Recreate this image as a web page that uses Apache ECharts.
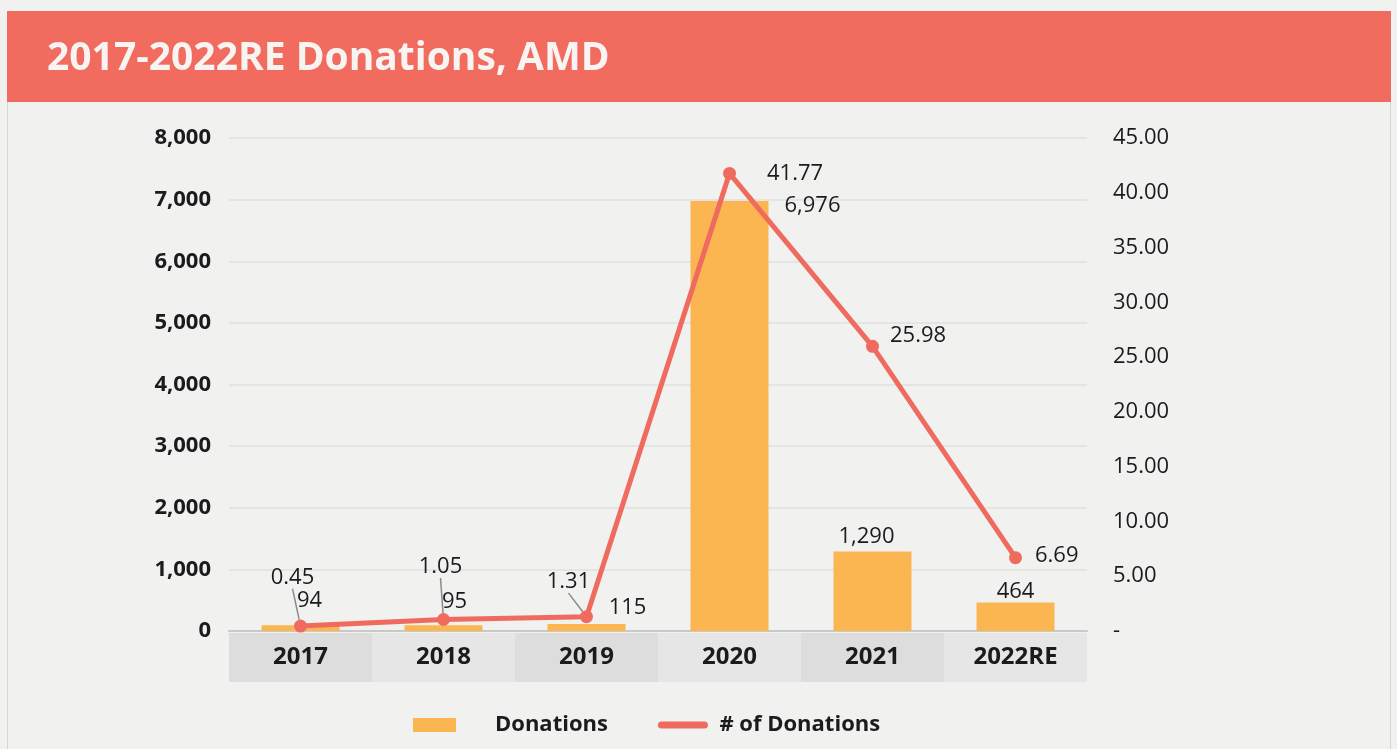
<!DOCTYPE html>
<html>
<head>
<meta charset="utf-8">
<script src="https://cdn.jsdelivr.net/npm/echarts@6/dist/echarts.min.js"></script>
<style>
	html, body { margin: 0; padding: 0; background: #f1f1ef; }
	#chart { width: 1397px; height: 749px; }
</style>
</head>
<body>
<div id="chart"></div>
<script>
	// data
	var years = ['2017', '2018', '2019', '2020', '2021', '2022RE'];
	var donations = [94, 95, 115, 6976, 1290, 464];
	var donationCount = [0.45, 1.05, 1.31, 41.77, 25.98, 6.69];

	// label nudges (px) so the labels sit like in the picture
	var barLabelShift = [[9, -8], [11, -7], [41, 0], [83, 21], [-6, 1], [0, 5]];
	var lineLabelShift = [[-8, -26], [-3, -30], [-18, -12], [26, 0], [6, -11], [8, -2]];
	var linePos = ['top', 'top', 'top', 'right', 'right', 'right'];

	var fontName = '"Open Sans", "Noto Sans", sans-serif';
	var red = '#f06b5f';
	var amber = '#fbb652';

	var chart = echarts.init(document.getElementById('chart'));

	chart.setOption({
		backgroundColor: '#f1f1ef',
		textStyle: { fontFamily: fontName },
		graphic: [
			{ type: 'rect', left: 7, top: 11, shape: { width: 1384, height: 91 }, style: { fill: '#f16b5f' }, z: -1 },
			{ type: 'rect', left: 7, top: 102, shape: { width: 1, height: 647 }, style: { fill: '#d6d6d6' } },
			{ type: 'rect', left: 1390, top: 102, shape: { width: 1, height: 647 }, style: { fill: '#d6d6d6' } }
		],
		title: {
			text: '2017-2022RE Donations, AMD',
			left: 42,
			top: 34,
			textStyle: { color: '#f7f4f2', fontSize: 39, fontWeight: 'bold', fontFamily: fontName }
		},
		legend: {
			left: 408,
			top: 709,
			itemWidth: 43,
			itemHeight: 14,
			itemGap: 50,
			textStyle: { fontSize: 22, fontWeight: 'bold', color: '#1b1b1f' },
			data: [
				{ name: 'Donations', icon: 'rect', textStyle: { fontSize: 22, fontWeight: 'bold', color: '#1b1b1f', padding: [0, 0, 0, 34] } },
				{ name: '# of Donations', itemStyle: { opacity: 0 }, lineStyle: { width: 7, cap: 'round' },
					textStyle: { fontSize: 22, fontWeight: 'bold', color: '#1b1b1f', padding: [0, 0, 0, 10] } }
			]
		},
		grid: { left: 229, right: 310, top: 138, bottom: 118 },
		xAxis: {
			type: 'category',
			data: years,
			axisTick: { show: false },
			axisLine: { lineStyle: { color: '#c9c9c9', width: 2 } },
			axisLabel: {
				interval: 0,
				margin: 2,
				formatter: function (v, i) {
					return '{' + (i % 2 ? 'l' : 'd') + '|' + v + '}';
				},
				rich: {
					d: { backgroundColor: '#dcdddc', width: 143, height: 49, lineHeight: 49, align: 'center', fontSize: 24, fontWeight: 'bold', color: '#1b1b1f' },
					l: { backgroundColor: '#e6e6e6', width: 143, height: 49, lineHeight: 49, align: 'center', fontSize: 24, fontWeight: 'bold', color: '#1b1b1f' }
				}
			}
		},
		yAxis: [
			{
				type: 'value',
				min: 0,
				max: 8000,
				interval: 1000,
				axisLine: { show: false },
				axisTick: { show: false },
				splitLine: { lineStyle: { color: '#e4e4e2', width: 2 } },
				axisLabel: {
					margin: 18,
					fontSize: 22,
					fontWeight: 'bold',
					color: '#1b1b1f',
					formatter: function (v) { return v.toLocaleString('en-US'); }
				}
			},
			{
				type: 'value',
				min: 0,
				max: 45,
				interval: 5,
				axisLine: { show: false },
				axisTick: { show: false },
				splitLine: { show: false },
				axisLabel: {
					margin: 26,
					fontSize: 22,
					color: '#1b1b1f',
					align: 'left',
					formatter: function (v) { return v === 0 ? '-' : v.toFixed(2); }
				}
			}
		],
		series: [
			{
				name: 'Donations',
				type: 'bar',
				barWidth: 78,
				itemStyle: { color: amber },
				label: {
					show: true,
					position: 'top',
					fontSize: 22,
					color: '#1b1b1f',
					formatter: function (p) { return p.value.toLocaleString('en-US'); }
				},
				labelLayout: function (p) {
					var s = barLabelShift[p.dataIndex];
					return { dx: s[0], dy: s[1] };
				},
				data: donations,
				z: 2
			},
			{
				name: '# of Donations',
				type: 'line',
				yAxisIndex: 1,
				symbol: 'circle',
				symbolSize: 13,
				lineStyle: { color: red, width: 5 },
				itemStyle: { color: red },
				label: {
					show: true,
					fontSize: 22,
					color: '#1b1b1f',
					formatter: function (p) { return p.value.toFixed(2); }
				},
				labelLine: { show: true, lineStyle: { color: '#8a8a8a', width: 1.5 } },
				labelLayout: function (p) {
					var s = lineLabelShift[p.dataIndex];
					return { dx: s[0], dy: s[1] };
				},
				data: donationCount.map(function (v, i) {
					return {
						value: v,
						label: { position: linePos[i] },
						labelLine: { show: i < 3 }
					};
				}),
				z: 3
			}
		]
	});
</script>
</body>
</html>
